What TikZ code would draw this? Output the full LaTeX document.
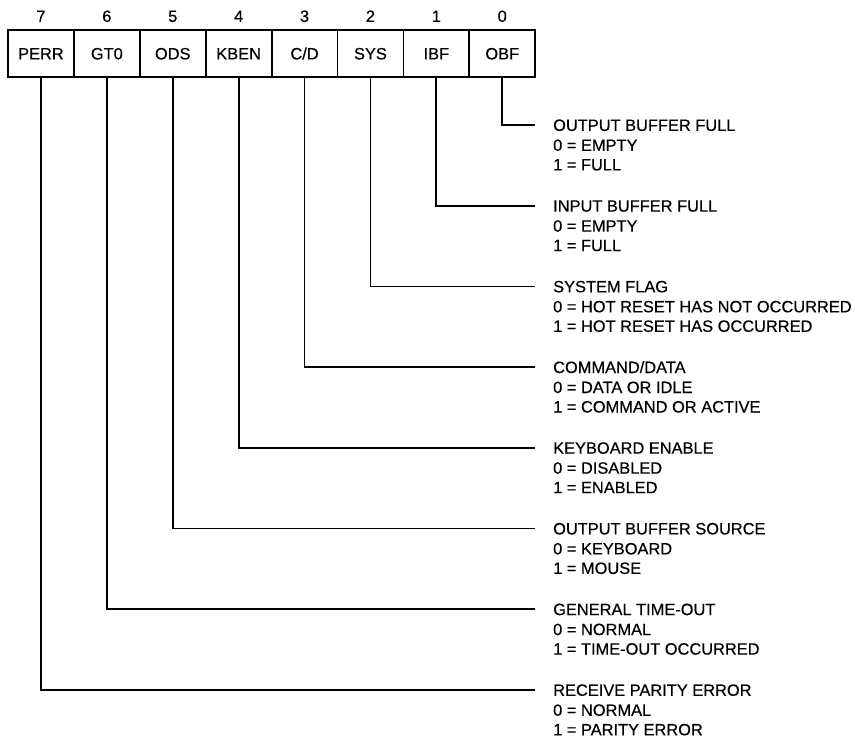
\documentclass[tikz,border=0pt]{standalone}
\usepackage{fontspec}
\setmainfont{Liberation Sans}[FakeBold=0.45]
\begin{document}
\begin{tikzpicture}[x=1pt,y=1pt,
  every node/.style={font=\fontsize{16.4}{20}\selectfont},
  cell/.style={draw,line width=1.8pt,minimum width=65.9pt,minimum height=47pt,inner sep=0pt,text height=11.8pt,text depth=0pt},
  bitnum/.style={inner sep=0pt,text height=11.8pt,text depth=0pt},
  ttl/.style={anchor=west,inner xsep=18pt,inner ysep=0pt,text height=11.8pt,text depth=0pt},
  dtl/.style={anchor=west,inner sep=0pt,text height=11.8pt,text depth=0pt},
  conn/.style={line width=1.8pt}]
\useasboundingbox (0,0) rectangle (855,-740);
% register cells
\foreach \n/\lab [count=\j from 0] in {7/PERR,6/GT0,5/ODS,4/KBEN,3/C\slash D,2/SYS,1/IBF,0/OBF}{
  \node[cell] (c\n) at ({8+65.9*(\j+0.5)},-53.5) {\lab};
  \node[bitnum] (b\n) at ({8+65.9*(\j+0.5)},-16) {\n};
}
% labels
\foreach \n/\t/\za/\oa [count=\k from 0] in {
  0/OUTPUT BUFFER FULL/EMPTY/FULL,
  1/INPUT BUFFER FULL/EMPTY/FULL,
  2/SYSTEM FLAG/HOT RESET HAS NOT OCCURRED/HOT RESET HAS OCCURRED,
  3/COMMAND\slash DATA/DATA OR IDLE/COMMAND OR ACTIVE,
  4/KEYBOARD ENABLE/DISABLED/ENABLED,
  5/OUTPUT BUFFER SOURCE/KEYBOARD/MOUSE,
  6/GENERAL TIME-OUT/NORMAL/TIME-OUT OCCURRED,
  7/RECEIVE PARITY ERROR/NORMAL/PARITY ERROR}{
  \node[ttl] (t\n) at (535,{-125-80.7*\k}) {\t};
  \node[dtl] (z\n) at (553,{-125-80.7*\k-20}) {0 = \za};
  \node[dtl] (o\n) at (553,{-125-80.7*\k-39.5}) {1 = \oa};
  \draw[conn] (c\n.south) |- (t\n.west);
}
\end{tikzpicture}
\end{document}
